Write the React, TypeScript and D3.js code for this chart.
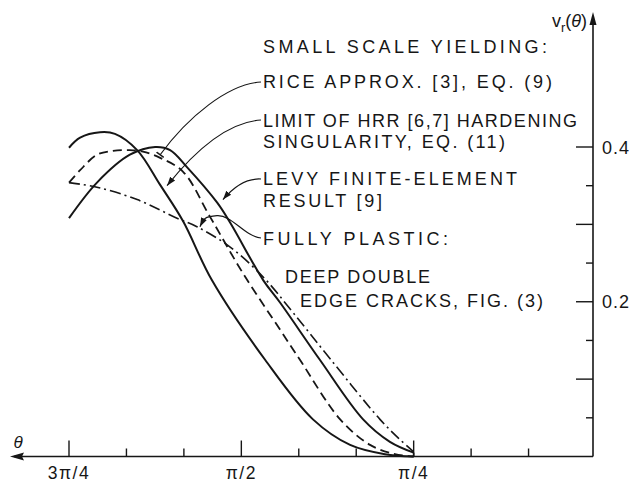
import React from 'react';
import * as d3 from 'd3';

// ---- axis data ----
const thetaTicks = [135, 120, 105, 90, 75, 60, 45, 30, 15];
const thetaMajor = [135, 90, 45];
const thetaLabelValues = [135, 90, 45];
const thetaLabelTexts = ['3π/4', 'π/2', 'π/4'];
const vTicks = [0.05, 0.1, 0.15, 0.2, 0.25, 0.3, 0.35, 0.4];
const vMajor = [0.1, 0.2, 0.3, 0.4];
const vLabelValues = [0.2, 0.4];
const vLabelTexts = ['0.2', '0.4'];

// ---- series (theta in degrees, v_r) ----
const hrrTheta = [135, 132.1, 126.9, 123, 117.2, 111.2, 105.2, 97.7, 83.8, 71.3, 61.6, 52.5, 45];
const hrrV = [0.399, 0.412, 0.419, 0.417, 0.396, 0.351, 0.304, 0.228, 0.125, 0.048, 0.015, 0.003, 0];

const riceTheta = [135, 132.1, 127.7, 123.5, 119.1, 115.7, 111.2, 105.2, 98.2, 89.6, 79.9, 74.7, 64.2, 56.4, 49.9, 45];
const riceV = [0.354, 0.37, 0.39, 0.395, 0.396, 0.394, 0.386, 0.368, 0.31, 0.237, 0.164, 0.125, 0.048, 0.015, 0.003, 0];

const levyTheta = [135, 127.7, 119.1, 112.5, 108.6, 104.2, 96.3, 92.9, 84.3, 79.9, 69.5, 58.2, 51.2, 45];
const levyV = [0.308, 0.354, 0.39, 0.4, 0.396, 0.374, 0.328, 0.302, 0.228, 0.199, 0.125, 0.048, 0.019, 0.005];

const plasticTheta = [135, 127.7, 117.2, 106.8, 101.6, 93, 84.3, 76.5, 66.6, 53.8, 48.6, 45];
const plasticV = [0.354, 0.348, 0.332, 0.308, 0.297, 0.271, 0.232, 0.186, 0.125, 0.048, 0.022, 0.006];

// ---- annotation text ----
const textLines = [
  'SMALL SCALE YIELDING:',
  'RICE APPROX. [3], EQ. (9)',
  'LIMIT OF HRR [6,7] HARDENING',
  'SINGULARITY, EQ. (11)',
  'LEVY FINITE-ELEMENT',
  'RESULT [9]',
  'FULLY PLASTIC:',
  'DEEP DOUBLE',
  'EDGE CRACKS, FIG. (3)',
];
const textX = [263, 263, 263, 263, 263, 263, 263, 285, 300];
const textY = [53, 88, 127, 148, 185, 207, 245, 283, 307];
const textW = [284, 289, 314, 242, 254, 119, 185, 145, 243];

// leader tips in data space
const riceTip = [111.2, 0.39];
const hrrTip = [109.4, 0.35];
const levyTip = [94.8, 0.332];
const plasticTip = [100.8, 0.297];

const W = 639;
const H = 484;

export default function App() {
  const x = d3.scaleLinear().domain([135, 0]).range([69, 586]);
  const y = d3.scaleLinear().domain([0, 0.4]).range([456.5, 147]);
  const axisX = 593;
  const baseY = y(0);

  const line = d3
    .line<[number, number]>()
    .x((d) => x(d[0]))
    .y((d) => y(d[1]))
    .curve(d3.curveCatmullRom.alpha(0.5));

  const zip = (a: number[], b: number[]) => a.map((t, i) => [t, b[i]] as [number, number]);

  const font = "'Liberation Sans', Arial, sans-serif";
  const ink = '#161616';

  const tip = (p: number[]) => [x(p[0]), y(p[1])];
  const [rx, ry] = tip(riceTip);
  const [hx, hy] = tip(hrrTip);
  const [lx, ly] = tip(levyTip);
  const [px, py] = tip(plasticTip);

  return (
    <svg width={W} height={H} style={{ position: 'absolute', left: 0, top: 0, background: '#fff' }}>
      <defs>
        <marker id="arr" viewBox="0 0 10 10" refX="10" refY="5" markerWidth="9" markerHeight="9" orient="auto" markerUnits="userSpaceOnUse">
          <path d="M0,1.5 L10,5 L0,8.5 Z" fill={ink} />
        </marker>
        <marker id="bar" viewBox="0 0 10 10" refX="5" refY="5" markerWidth="9" markerHeight="9" orient="auto" markerUnits="userSpaceOnUse">
          <path d="M5,0 L5,10" stroke={ink} strokeWidth="1.6" />
        </marker>
      </defs>
      <rect width={W} height={H} fill="#fff" />

      {/* x axis */}
      <line x1={14} y1={baseY} x2={axisX} y2={baseY} stroke={ink} strokeWidth={1.6} />
      <path d={`M10,${baseY} L24,${baseY - 4} L22,${baseY} L24,${baseY + 4} Z`} fill={ink} />
      {thetaTicks.map((t) => (
        <line key={t} x1={x(t)} x2={x(t)} y1={baseY} y2={baseY - (thetaMajor.includes(t) ? 16 : 8)} stroke={ink} strokeWidth={1.4} />
      ))}
      {thetaLabelValues.map((t, i) => (
        <text key={t} x={x(t)} y={479} textAnchor="middle" fontFamily={font} fontSize={17.5} letterSpacing={1.5} fill={ink}>
          {thetaLabelTexts[i]}
        </text>
      ))}
      <text x={18} y={448} textAnchor="middle" fontFamily={font} fontSize={17} fontStyle="italic" fill={ink}>θ</text>

      {/* y axis */}
      <line x1={axisX} y1={baseY} x2={axisX} y2={20} stroke={ink} strokeWidth={1.6} />
      <path d={`M${axisX},12 L${axisX - 3.5},25 L${axisX + 3.5},25 Z`} fill={ink} />
      {vTicks.map((v) => (
        <line key={v} x1={axisX} x2={axisX - (vMajor.includes(v) ? 17 : 7)} y1={y(v)} y2={y(v)} stroke={ink} strokeWidth={1.4} />
      ))}
      {vLabelValues.map((v, i) => (
        <text key={v} x={602} y={y(v) + 6.5} fontFamily={font} fontSize={18} letterSpacing={1} fill={ink}>
          {vLabelTexts[i]}
        </text>
      ))}
      <text x={587} y={27} textAnchor="end" fontFamily={font} fontSize={18} fill={ink}>
        <tspan>v</tspan>
        <tspan fontSize={13} dy={5}>r</tspan>
        <tspan dy={-5}>(</tspan>
        <tspan fontStyle="italic">θ</tspan>
        <tspan>)</tspan>
      </text>

      {/* curves */}
      <path d={line(zip(hrrTheta, hrrV)) || ''} fill="none" stroke={ink} strokeWidth={2} />
      <path d={line(zip(levyTheta, levyV)) || ''} fill="none" stroke={ink} strokeWidth={2} />
      <path d={line(zip(riceTheta, riceV)) || ''} fill="none" stroke={ink} strokeWidth={1.8} strokeDasharray="9 5" />
      <path d={line(zip(plasticTheta, plasticV)) || ''} fill="none" stroke={ink} strokeWidth={1.6} strokeDasharray="11 4 2 4" />
      <line x1={x(45)} y1={y(0.005)} x2={x(45)} y2={baseY} stroke={ink} strokeWidth={1.6} />

      {/* leaders */}
      <path d={`M261,${textY[1] - 6} C228,${textY[1] - 4} 188,${ry - 38} ${rx},${ry}`} fill="none" stroke={ink} strokeWidth={1.2} markerEnd="url(#bar)" />
      <path d={`M261,${textY[2] - 7} C228,${textY[2] - 5} 195,${hy - 35} ${hx},${hy}`} fill="none" stroke={ink} strokeWidth={1.2} markerEnd="url(#arr)" />
      <path d={`M261,${textY[4] - 6} C246,${textY[4] - 7} 233,${ly - 12} ${lx},${ly}`} fill="none" stroke={ink} strokeWidth={1.2} markerEnd="url(#arr)" />
      <path d={`M261,${textY[6] - 7} C244,${textY[6] - 9} 232,${py - 12} 217,${py - 11} S${px + 3},${py - 6} ${px},${py}`} fill="none" stroke={ink} strokeWidth={1.2} markerEnd="url(#arr)" />

      {/* texts */}
      {textLines.map((s, i) => (
        <text key={i} x={textX[i]} y={textY[i]} fontFamily={font} fontSize={18} textLength={textW[i]} lengthAdjust="spacing" fill={ink}>
          {s}
        </text>
      ))}
    </svg>
  );
}
